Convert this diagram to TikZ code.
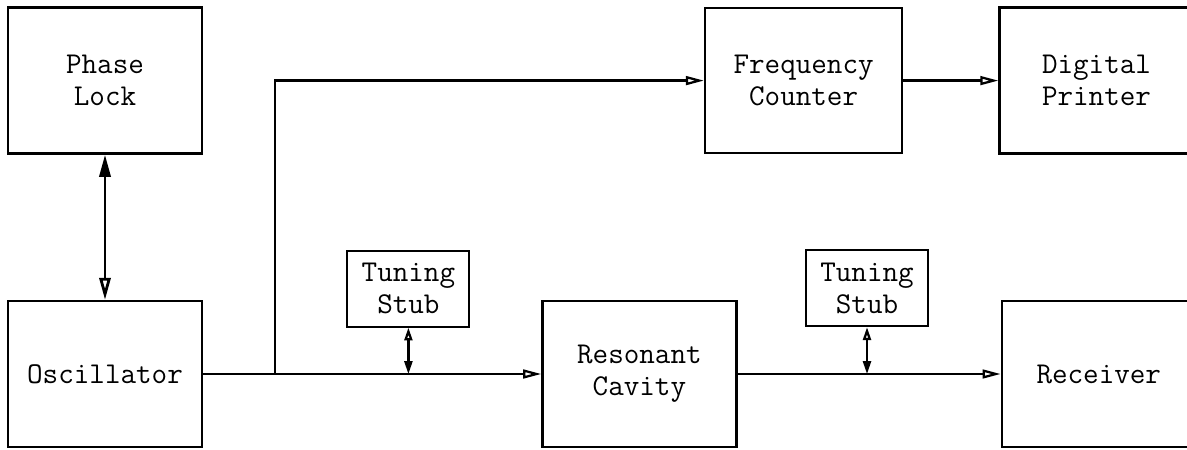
\documentclass[tikz,border=0pt]{standalone}
\usetikzlibrary{arrows.meta, positioning}

\tikzset{
  block/.style={draw, line width=1.7pt, minimum width=4.85cm, minimum height=3.65cm, inner sep=0pt, align=center},
  stubbox/.style={draw, line width=1.5pt, minimum width=3.05cm, minimum height=1.9cm, inner sep=0pt, align=center},
  line/.style={line width=1.6pt},
  arrow/.style={line, -{Triangle[open, length=0.45cm, width=0.22cm]}},
  twoway/.style={line width=2pt, {Triangle[length=0.55cm, width=0.28cm]}-{Triangle[open, length=0.55cm, width=0.28cm]}},
  stubarrow/.style={line width=1.6pt, {Triangle[open, length=0.32cm, width=0.2cm]}-{Triangle[length=0.32cm, width=0.2cm]}}
}

\begin{document}
\begin{tikzpicture}[font=\ttfamily\fontsize{21.5}{23}\selectfont]
        \useasboundingbox (0,0) rectangle (29.675,11.225);
        \node[block] (osc) at (2.625,1.875) {Oscillator};
        \node[block, above=3.625cm of osc] (lock) {Phase\\Lock};
        \node[block, right=8.45cm of osc] (cavity) {Resonant\\Cavity};
        \node[block, right=6.575cm of cavity] (rx) {Receiver};
        \node[block, minimum width=4.925cm, minimum height=3.625cm] (counter) at (20.09,9.21) {Frequency\\Counter};
        \node[block, right=2.375cm of counter] (printer) {Digital\\Printer};
        \node[stubbox] (stub1) at (10.21,4.01) {Tuning\\Stub};
        \node[stubbox] (stub2) at (21.675,4.02) {Tuning\\Stub};
        \coordinate (split) at (6.875,1.875);
        \coordinate (tap1) at (stub1.south |- osc.east);
        \coordinate (tap2) at (stub2.south |- osc.east);
        \draw[twoway] (lock) -- (osc);
        \draw[arrow] (osc.east) -- (cavity.west);
        \draw[arrow] (split) |- (counter.west);
        \draw[arrow] (counter) -- (printer);
        \draw[arrow] (cavity.east) -- (rx.west);
        \draw[stubarrow] (stub1.south) -- (tap1);
        \draw[stubarrow] (stub2.south) -- (tap2);
    \end{tikzpicture}
\end{document}
